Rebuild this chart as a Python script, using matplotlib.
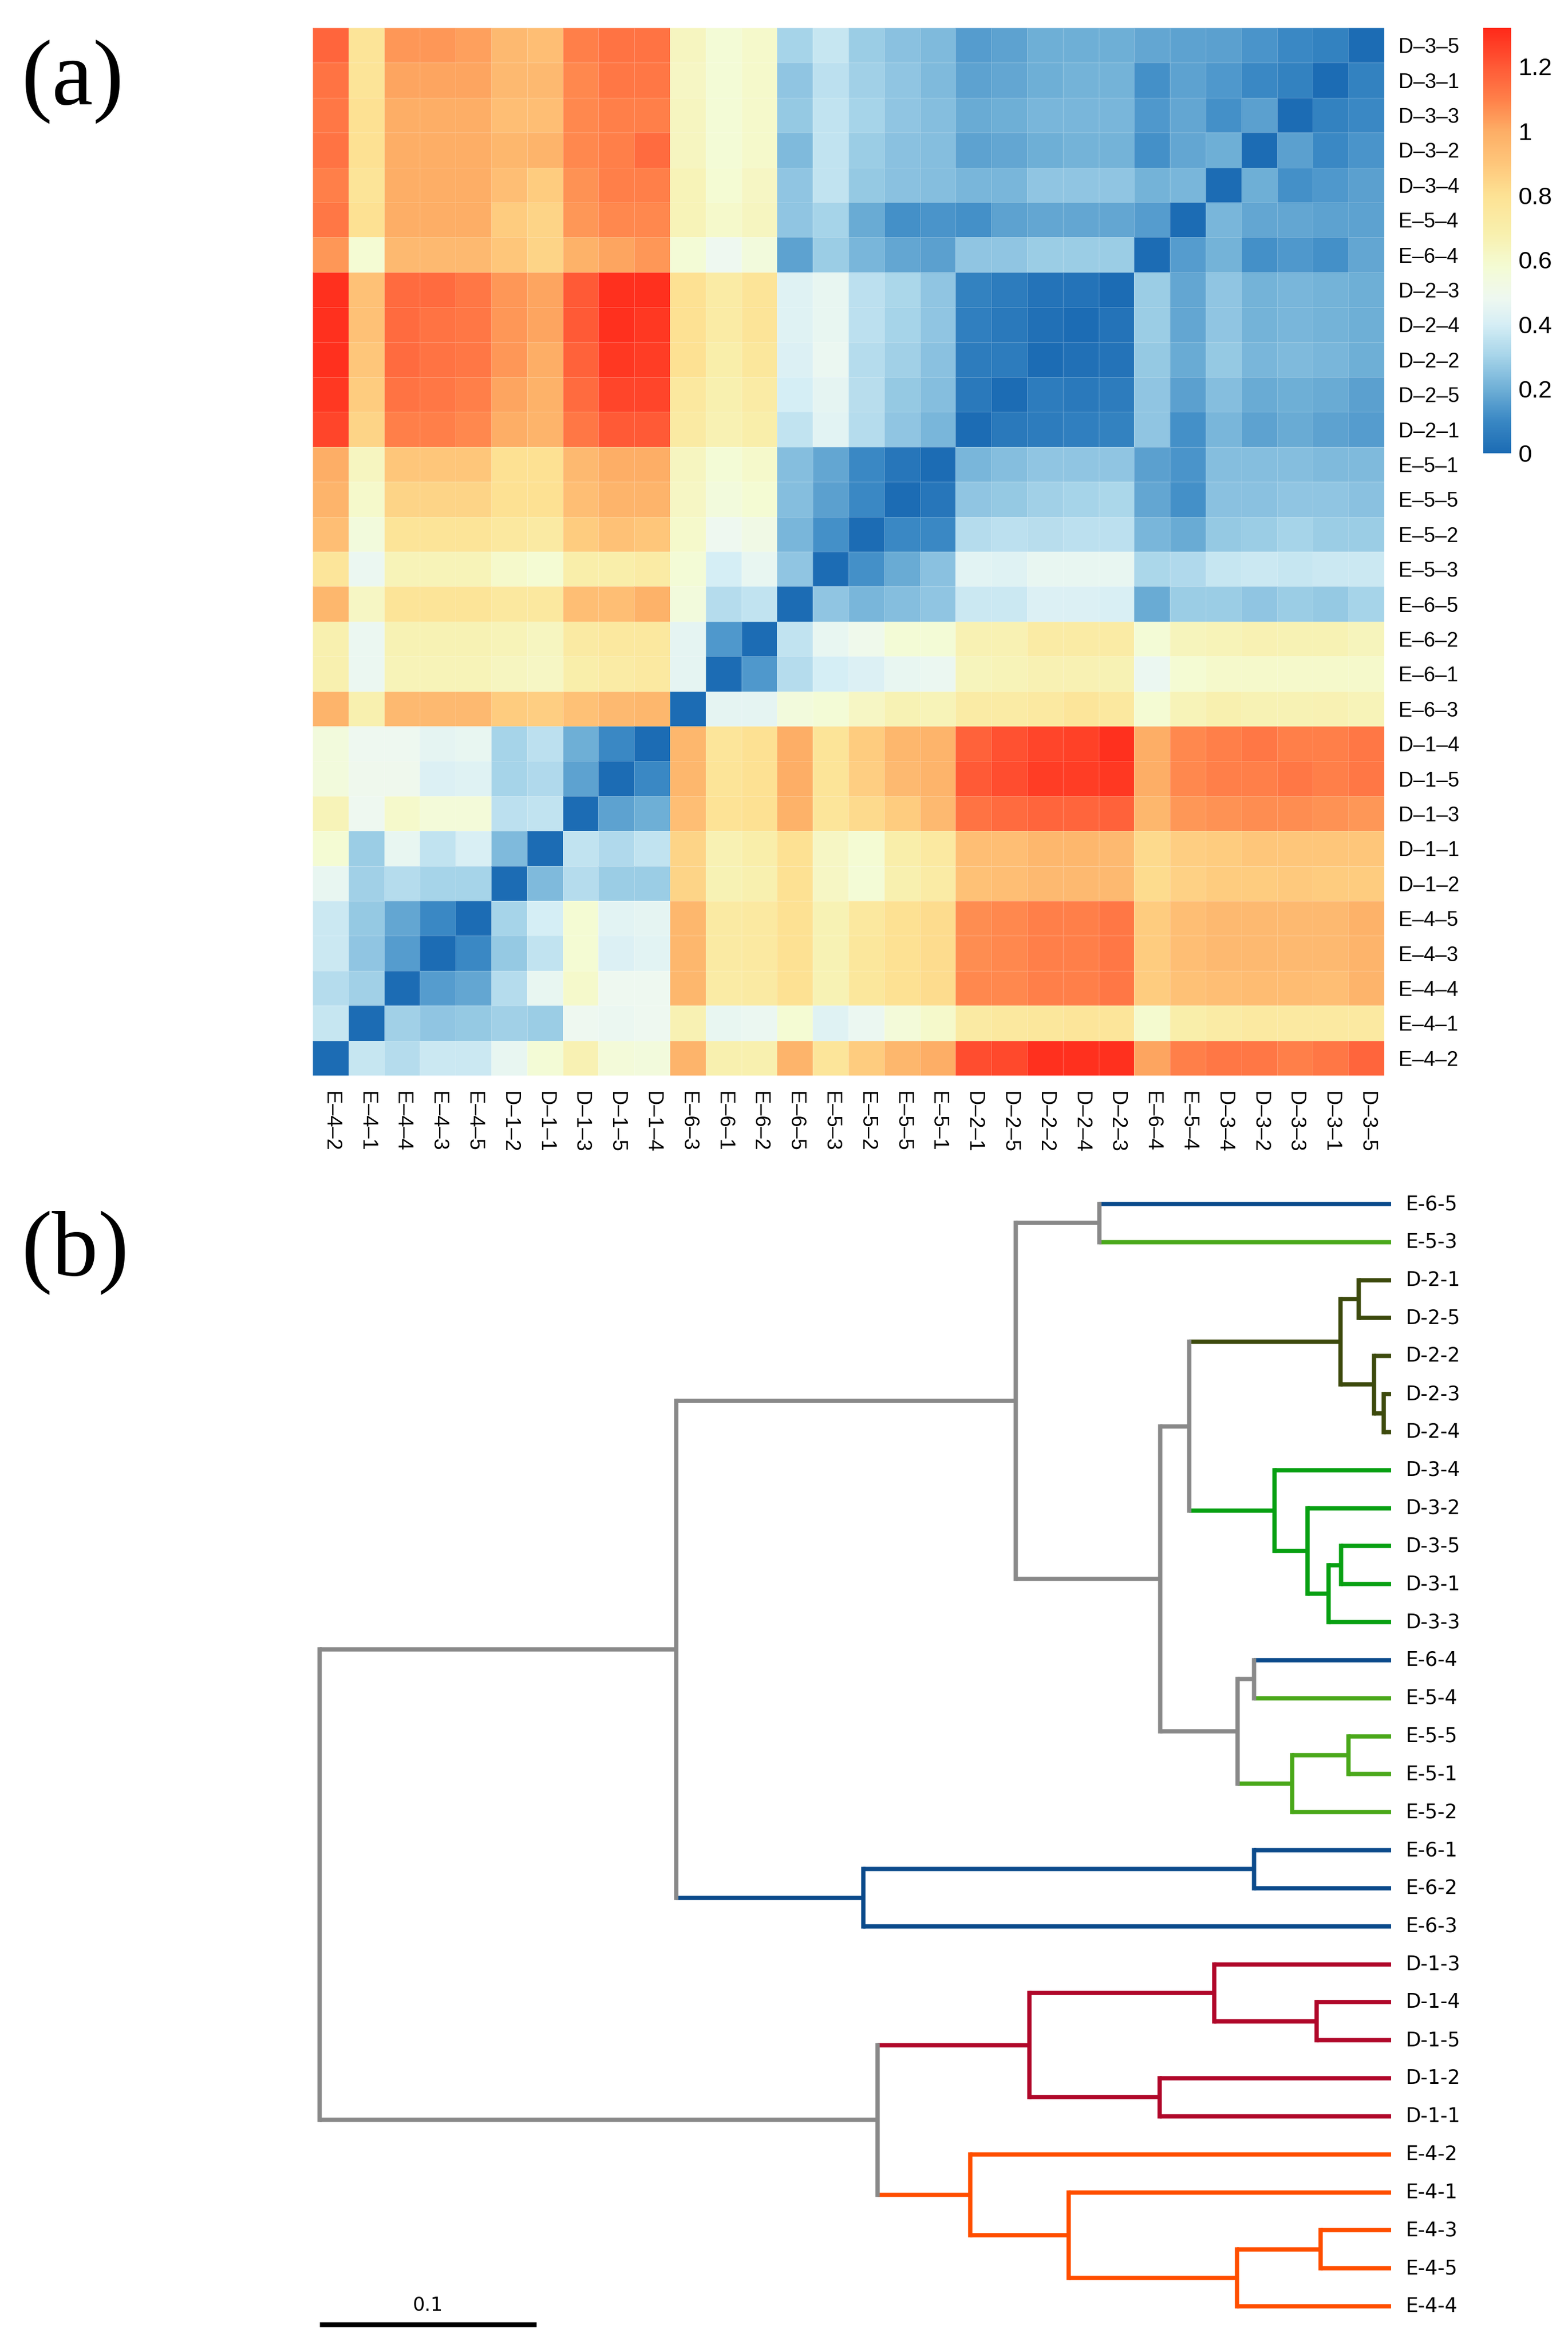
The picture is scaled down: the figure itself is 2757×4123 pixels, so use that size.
import numpy as np
import matplotlib
matplotlib.use("Agg")
import matplotlib.pyplot as plt
from matplotlib.colors import LinearSegmentedColormap

W, H = 2757, 4123

# ---------------- (a) heatmap data ----------------
col_labels = ["E-4-2", "E-4-1", "E-4-4", "E-4-3", "E-4-5", "D-1-2", "D-1-1", "D-1-3", "D-1-5", "D-1-4",
              "E-6-3", "E-6-1", "E-6-2", "E-6-5", "E-5-3", "E-5-2", "E-5-5", "E-5-1", "D-2-1", "D-2-5",
              "D-2-2", "D-2-4", "D-2-3", "E-6-4", "E-5-4", "D-3-4", "D-3-2", "D-3-3", "D-3-1", "D-3-5"]
row_labels = col_labels[::-1]  # top to bottom

dist = [
    [1.17, 0.78, 1.05, 1.05, 1.03, 0.95, 0.93, 1.10, 1.13, 1.13, 0.63, 0.57, 0.60, 0.30, 0.37, 0.28, 0.25, 0.23, 0.15, 0.17, 0.20, 0.20, 0.20, 0.18, 0.17, 0.16, 0.13, 0.10, 0.08, 0.00],
    [1.13, 0.78, 1.02, 1.02, 1.02, 0.95, 0.95, 1.08, 1.12, 1.12, 0.62, 0.57, 0.60, 0.26, 0.35, 0.29, 0.26, 0.23, 0.17, 0.18, 0.20, 0.21, 0.21, 0.12, 0.17, 0.14, 0.10, 0.08, 0.00, 0.08],
    [1.12, 0.80, 1.00, 1.00, 1.00, 0.93, 0.93, 1.08, 1.10, 1.10, 0.63, 0.57, 0.60, 0.27, 0.36, 0.30, 0.26, 0.24, 0.19, 0.20, 0.22, 0.22, 0.22, 0.14, 0.18, 0.12, 0.16, 0.00, 0.08, 0.10],
    [1.13, 0.80, 1.00, 1.00, 1.00, 0.96, 0.97, 1.08, 1.10, 1.15, 0.63, 0.57, 0.60, 0.23, 0.36, 0.28, 0.25, 0.24, 0.17, 0.18, 0.20, 0.21, 0.21, 0.12, 0.18, 0.20, 0.00, 0.16, 0.10, 0.13],
    [1.10, 0.78, 1.00, 1.00, 1.00, 0.93, 0.88, 1.06, 1.10, 1.10, 0.65, 0.58, 0.62, 0.26, 0.36, 0.27, 0.25, 0.24, 0.22, 0.22, 0.26, 0.26, 0.26, 0.21, 0.22, 0.00, 0.20, 0.12, 0.14, 0.16],
    [1.12, 0.80, 1.00, 1.00, 1.00, 0.88, 0.85, 1.05, 1.08, 1.08, 0.65, 0.60, 0.63, 0.26, 0.30, 0.19, 0.12, 0.13, 0.12, 0.17, 0.18, 0.18, 0.18, 0.15, 0.00, 0.22, 0.18, 0.18, 0.17, 0.17],
    [1.05, 0.58, 0.95, 0.95, 0.95, 0.90, 0.85, 0.98, 1.02, 1.05, 0.57, 0.48, 0.55, 0.17, 0.28, 0.22, 0.18, 0.16, 0.26, 0.26, 0.28, 0.28, 0.28, 0.00, 0.15, 0.21, 0.12, 0.14, 0.12, 0.18],
    [1.30, 0.92, 1.15, 1.15, 1.12, 1.05, 1.02, 1.20, 1.30, 1.30, 0.80, 0.72, 0.78, 0.43, 0.46, 0.35, 0.31, 0.26, 0.08, 0.06, 0.03, 0.03, 0.00, 0.28, 0.18, 0.26, 0.21, 0.22, 0.21, 0.20],
    [1.30, 0.92, 1.15, 1.13, 1.12, 1.05, 1.02, 1.20, 1.30, 1.28, 0.80, 0.72, 0.78, 0.43, 0.46, 0.35, 0.30, 0.26, 0.07, 0.05, 0.02, 0.00, 0.03, 0.28, 0.18, 0.26, 0.21, 0.22, 0.21, 0.20],
    [1.30, 0.90, 1.15, 1.13, 1.12, 1.05, 1.00, 1.18, 1.28, 1.27, 0.80, 0.70, 0.76, 0.42, 0.47, 0.33, 0.29, 0.25, 0.06, 0.06, 0.00, 0.02, 0.03, 0.27, 0.19, 0.27, 0.22, 0.23, 0.22, 0.20],
    [1.28, 0.88, 1.13, 1.12, 1.10, 1.02, 0.98, 1.15, 1.25, 1.25, 0.75, 0.68, 0.72, 0.40, 0.45, 0.34, 0.27, 0.24, 0.05, 0.00, 0.06, 0.05, 0.06, 0.26, 0.16, 0.24, 0.19, 0.20, 0.19, 0.16],
    [1.25, 0.85, 1.10, 1.10, 1.08, 1.00, 0.97, 1.12, 1.20, 1.20, 0.73, 0.67, 0.70, 0.36, 0.44, 0.33, 0.26, 0.22, 0.00, 0.05, 0.06, 0.07, 0.08, 0.26, 0.12, 0.22, 0.17, 0.19, 0.17, 0.15],
    [1.00, 0.63, 0.90, 0.90, 0.90, 0.80, 0.80, 0.95, 1.00, 1.00, 0.63, 0.57, 0.60, 0.24, 0.18, 0.10, 0.04, 0.00, 0.22, 0.24, 0.26, 0.26, 0.26, 0.16, 0.13, 0.24, 0.24, 0.24, 0.23, 0.23],
    [0.97, 0.60, 0.85, 0.85, 0.85, 0.80, 0.80, 0.93, 0.97, 0.97, 0.62, 0.55, 0.58, 0.24, 0.16, 0.10, 0.00, 0.04, 0.26, 0.27, 0.29, 0.30, 0.31, 0.18, 0.12, 0.25, 0.25, 0.26, 0.26, 0.25],
    [0.93, 0.55, 0.78, 0.78, 0.78, 0.75, 0.73, 0.88, 0.92, 0.90, 0.60, 0.48, 0.52, 0.22, 0.12, 0.00, 0.10, 0.10, 0.33, 0.35, 0.34, 0.35, 0.35, 0.22, 0.19, 0.27, 0.28, 0.30, 0.28, 0.28],
    [0.77, 0.47, 0.65, 0.65, 0.65, 0.60, 0.58, 0.70, 0.70, 0.72, 0.57, 0.40, 0.46, 0.26, 0.00, 0.12, 0.19, 0.25, 0.44, 0.43, 0.46, 0.46, 0.46, 0.31, 0.32, 0.37, 0.38, 0.37, 0.38, 0.38],
    [0.96, 0.62, 0.78, 0.78, 0.78, 0.75, 0.75, 0.93, 0.93, 0.98, 0.55, 0.33, 0.36, 0.00, 0.26, 0.22, 0.24, 0.26, 0.38, 0.38, 0.42, 0.42, 0.41, 0.19, 0.28, 0.28, 0.26, 0.28, 0.27, 0.30],
    [0.68, 0.47, 0.66, 0.66, 0.66, 0.65, 0.63, 0.73, 0.75, 0.75, 0.45, 0.14, 0.00, 0.36, 0.46, 0.50, 0.57, 0.57, 0.67, 0.67, 0.72, 0.72, 0.72, 0.57, 0.64, 0.65, 0.67, 0.66, 0.66, 0.64],
    [0.68, 0.47, 0.65, 0.65, 0.65, 0.63, 0.62, 0.70, 0.72, 0.74, 0.45, 0.00, 0.14, 0.33, 0.40, 0.42, 0.46, 0.47, 0.64, 0.65, 0.67, 0.67, 0.66, 0.47, 0.58, 0.60, 0.60, 0.60, 0.60, 0.60],
    [0.97, 0.68, 0.95, 0.95, 0.95, 0.88, 0.87, 0.92, 0.95, 0.96, 0.00, 0.45, 0.45, 0.55, 0.57, 0.62, 0.66, 0.65, 0.72, 0.72, 0.74, 0.77, 0.75, 0.58, 0.65, 0.68, 0.66, 0.66, 0.67, 0.65],
    [0.55, 0.48, 0.48, 0.45, 0.46, 0.30, 0.35, 0.20, 0.10, 0.00, 0.96, 0.77, 0.80, 1.00, 0.78, 0.88, 0.96, 0.97, 1.18, 1.22, 1.25, 1.26, 1.30, 1.00, 1.08, 1.10, 1.12, 1.10, 1.10, 1.12],
    [0.55, 0.49, 0.49, 0.42, 0.43, 0.30, 0.32, 0.17, 0.00, 0.10, 0.96, 0.78, 0.80, 1.00, 0.78, 0.87, 0.95, 0.97, 1.20, 1.23, 1.27, 1.27, 1.28, 1.00, 1.08, 1.10, 1.10, 1.12, 1.10, 1.12],
    [0.65, 0.48, 0.60, 0.56, 0.56, 0.35, 0.36, 0.00, 0.17, 0.20, 0.93, 0.79, 0.80, 0.98, 0.77, 0.83, 0.88, 0.95, 1.13, 1.15, 1.17, 1.17, 1.18, 0.96, 1.05, 1.06, 1.07, 1.07, 1.06, 1.05],
    [0.58, 0.28, 0.46, 0.36, 0.41, 0.23, 0.00, 0.36, 0.32, 0.36, 0.85, 0.67, 0.70, 0.80, 0.62, 0.58, 0.70, 0.74, 0.93, 0.93, 0.96, 0.96, 0.95, 0.83, 0.87, 0.88, 0.90, 0.90, 0.90, 0.90],
    [0.46, 0.29, 0.33, 0.30, 0.30, 0.00, 0.23, 0.33, 0.28, 0.28, 0.85, 0.66, 0.68, 0.80, 0.62, 0.57, 0.68, 0.72, 0.92, 0.93, 0.95, 0.95, 0.95, 0.82, 0.86, 0.88, 0.88, 0.89, 0.88, 0.88],
    [0.38, 0.27, 0.18, 0.10, 0.00, 0.30, 0.40, 0.58, 0.44, 0.45, 0.96, 0.73, 0.74, 0.80, 0.66, 0.75, 0.80, 0.82, 1.07, 1.08, 1.10, 1.10, 1.12, 0.88, 0.93, 0.95, 0.95, 0.95, 0.95, 0.98],
    [0.38, 0.26, 0.15, 0.00, 0.10, 0.27, 0.36, 0.58, 0.42, 0.44, 0.96, 0.73, 0.74, 0.80, 0.66, 0.76, 0.80, 0.82, 1.07, 1.08, 1.10, 1.10, 1.12, 0.88, 0.93, 0.95, 0.95, 0.95, 0.95, 0.97],
    [0.33, 0.29, 0.00, 0.15, 0.18, 0.33, 0.46, 0.60, 0.48, 0.48, 0.96, 0.72, 0.73, 0.80, 0.66, 0.76, 0.80, 0.82, 1.08, 1.08, 1.10, 1.10, 1.12, 0.88, 0.92, 0.93, 0.94, 0.94, 0.93, 0.97],
    [0.37, 0.00, 0.29, 0.26, 0.27, 0.29, 0.28, 0.48, 0.47, 0.48, 0.67, 0.46, 0.47, 0.58, 0.43, 0.47, 0.56, 0.60, 0.73, 0.75, 0.76, 0.77, 0.77, 0.59, 0.70, 0.72, 0.74, 0.74, 0.74, 0.74],
    [0.00, 0.37, 0.33, 0.38, 0.38, 0.46, 0.57, 0.67, 0.56, 0.55, 0.97, 0.68, 0.68, 0.97, 0.77, 0.88, 0.96, 1.00, 1.23, 1.24, 1.30, 1.30, 1.30, 1.02, 1.10, 1.12, 1.12, 1.10, 1.12, 1.17],
]

cbar_ticks = [0, 0.2, 0.4, 0.6, 0.8, 1.0, 1.2]
cbar_ticklabels = ["0", "0.2", "0.4", "0.6", "0.8", "1", "1.2"]

# ---------------- (b) dendrogram data ----------------
leaves = ["E-6-5", "E-5-3", "D-2-1", "D-2-5", "D-2-2", "D-2-3", "D-2-4", "D-3-4", "D-3-2", "D-3-5",
          "D-3-1", "D-3-3", "E-6-4", "E-5-4", "E-5-5", "E-5-1", "E-5-2", "E-6-1", "E-6-2", "E-6-3",
          "D-1-3", "D-1-4", "D-1-5", "D-1-2", "D-1-1", "E-4-2", "E-4-1", "E-4-3", "E-4-5", "E-4-4"]
# merges: node n{i} joins merge_a[i] and merge_b[i] at merge_h[i]
merge_a = ["E-6-5", "D-2-1", "D-2-3", "D-2-2", "n1", "D-3-5", "n5", "D-3-2", "D-3-4", "n4",
           "E-6-4", "E-5-5", "n11", "n10", "n9", "n0", "E-6-1", "n16", "n15", "D-1-4",
           "D-1-3", "D-1-2", "n20", "E-4-3", "n23", "E-4-1", "E-4-2", "n22", "n18"]
merge_b = ["E-5-3", "D-2-5", "D-2-4", "n2", "n3", "D-3-1", "D-3-3", "n6", "n7", "n8",
           "E-5-4", "E-5-1", "E-5-2", "n12", "n13", "n14", "E-6-2", "E-6-3", "n17", "D-1-5",
           "n19", "D-1-1", "n21", "E-4-5", "E-4-4", "n24", "n25", "n26", "n27"]
merge_h = [0.1349, 0.0150, 0.0033, 0.0079, 0.0234, 0.0231, 0.0289, 0.0386, 0.0539, 0.0933,
           0.0632, 0.0197, 0.0456, 0.0709, 0.1067, 0.1735, 0.0633, 0.2439, 0.3304, 0.0343,
           0.0816, 0.1070, 0.1671, 0.0327, 0.0713, 0.1491, 0.1944, 0.2373, 0.4949]
scale_len = 0.1

group_colors = {"E-6": "#0b4a8b", "E-5": "#4aa81a", "D-2": "#3d4a0d",
                "D-3": "#08a012", "D-1": "#b0082a", "E-4": "#ff4e00"}
grey = "#898989"

# ---------------- figure ----------------
fig = plt.figure(figsize=(W / 100, H / 100), dpi=100)
fig.patch.set_facecolor("white")


def px_axes(x0, y0, x1, y1):
    return fig.add_axes([x0 / W, 1 - y1 / H, (x1 - x0) / W, (y1 - y0) / H])


cmap = LinearSegmentedColormap.from_list("dist", [
    (0.00 / 1.32, "#1c6cb4"), (0.10 / 1.32, "#3a88c4"), (0.20 / 1.32, "#70b0d7"),
    (0.30 / 1.32, "#a6d4e9"), (0.40 / 1.32, "#d6eef5"), (0.48 / 1.32, "#eef8f0"),
    (0.58 / 1.32, "#f4fbd3"), (0.68 / 1.32, "#f8f0ae"), (0.80 / 1.32, "#fde294"),
    (0.90 / 1.32, "#fec67a"), (1.00 / 1.32, "#fdae66"), (1.10 / 1.32, "#ff8049"),
    (1.20 / 1.32, "#ff5a36"), (1.32 / 1.32, "#ff2a1a")], N=256)

ax = px_axes(550, 49, 2434, 1891)
mat = np.array(dist)
n = len(col_labels)
mesh = ax.pcolormesh(np.arange(n + 1), np.arange(n + 1), mat, cmap=cmap, vmin=0, vmax=1.32,
                     edgecolors=(1, 1, 1, 0.25), linewidth=0.6)
ax.set_xlim(0, n)
ax.set_ylim(n, 0)
for s in ax.spines.values():
    s.set_visible(False)
ax.yaxis.tick_right()
ax.set_yticks(np.arange(n) + 0.5)
ax.set_yticklabels([t.replace("-", "\u2013") for t in row_labels],
                   fontfamily="Liberation Sans", fontsize=26)
ax.set_xticks(np.arange(n) + 0.5)
ax.set_xticklabels([t.replace("-", "\u2013") for t in col_labels], rotation=270,
                   fontfamily="Liberation Sans", fontsize=26)
ax.tick_params(axis="y", length=0, pad=18)
ax.tick_params(axis="x", length=0, pad=20)

cax = px_axes(2608, 49, 2657, 797)
cb = fig.colorbar(mesh, cax=cax, ticks=cbar_ticks)
cb.outline.set_visible(False)
cax.set_yticklabels(cbar_ticklabels, fontfamily="Liberation Sans", fontsize=31)
cax.tick_params(length=0, pad=9)

# ---------------- dendrogram ----------------
dax = px_axes(562.5, 2117, 2446, 4055)
root_h = merge_h[-1]
dax.set_xlim(root_h, 0)
dax.set_ylim(len(leaves) - 1, 0)
dax.axis("off")

pos = {}
for i, name in enumerate(leaves):
    pos[name] = (0.0, float(i), group_colors[name[:3]])

lw = 5.4
for i, (a, b, h) in enumerate(zip(merge_a, merge_b, merge_h)):
    ha_, ya, ca = pos[a]
    hb_, yb, cb_ = pos[b]
    node_c = ca if (ca is not None and ca == cb_) else None
    dax.plot([ha_, h], [ya, ya], color=ca or grey, lw=lw, solid_capstyle="butt", clip_on=False)
    dax.plot([hb_, h], [yb, yb], color=cb_ or grey, lw=lw, solid_capstyle="butt", clip_on=False)
    dax.plot([h, h], [ya, yb], color=node_c or grey, lw=lw, solid_capstyle="projecting", clip_on=False)
    pos["n%d" % i] = (h, (ya + yb) / 2, node_c)

for i, name in enumerate(leaves):
    dax.text(-0.0068, i, name, fontsize=25, va="center", ha="left", clip_on=False)

# scale bar
dax.plot([root_h, root_h - scale_len], [29.48, 29.48], color="black", lw=6.2,
         solid_capstyle="butt", clip_on=False)
dax.text(root_h - scale_len / 2, 28.98, "0.1", fontsize=24, ha="center", va="center", clip_on=False)

# panel labels
fig.text(38 / W, 1 - 183 / H, "(a)", fontfamily="Liberation Serif", fontsize=117, va="baseline", ha="left")
fig.text(38 / W, 1 - 2242 / H, "(b)", fontfamily="Liberation Serif", fontsize=117, va="baseline", ha="left")

fig.savefig("out.png", dpi=100, facecolor="white")
